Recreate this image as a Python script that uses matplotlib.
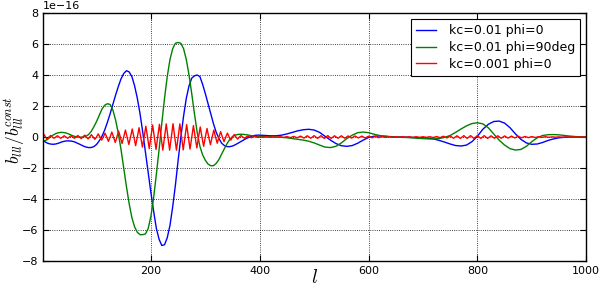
import numpy as np
import matplotlib
matplotlib.use('Agg')
import matplotlib.pyplot as plt

# 1. data (in units of 1e-16)

# grids: fine step for 0-400, coarser step for 400-1000
l_fine = np.arange(0, 401, 5)
l_coarse = np.arange(410, 1001, 10)

blue_fine = [-0.15, -0.3, -0.4, -0.45, -0.47, -0.45, -0.4, -0.33, -0.28, -0.25,
             -0.25, -0.27, -0.32, -0.4, -0.48, -0.57, -0.64, -0.68, -0.68, -0.62,
             -0.48, -0.25, 0.05, 0.45, 0.95, 1.5, 2.1, 2.7, 3.25, 3.75,
             4.1, 4.28, 4.2, 3.9, 3.3, 2.5, 1.5, 0.3, -1.0, -2.3,
             -3.6, -4.8, -5.9, -6.6, -7.0, -6.95, -6.5, -5.7, -4.5, -3.1,
             -1.5, 0.0, 1.35, 2.5, 3.3, 3.8, 3.95, 4.0, 3.9, 3.4,
             2.8, 2.15, 1.5, 0.85, 0.3, -0.1, -0.4, -0.55, -0.62, -0.62,
             -0.58, -0.5, -0.4, -0.3, -0.2, -0.1, -0.02, 0.05, 0.1, 0.12,
             0.12]
blue_coarse = [0.1, 0.08, 0.08, 0.12, 0.2, 0.3, 0.4, 0.47, 0.5, 0.45,
               0.3, 0.05, -0.2, -0.42, -0.56, -0.6, -0.55, -0.4, -0.2, -0.03,
               0.05, 0.07, 0.05, 0.02, 0.0, 0.0, -0.01, -0.03, -0.04, -0.05,
               -0.08, -0.13, -0.22, -0.33, -0.45, -0.55, -0.58, -0.52, -0.3, 0.05,
               0.5, 0.82, 1.0, 1.03, 0.9, 0.6, 0.2, -0.15, -0.38, -0.47,
               -0.45, -0.35, -0.22, -0.12, -0.05, -0.02, 0.0, 0.0, 0.0, 0.0]

green_fine = [-0.2, -0.25, -0.15, 0.0, 0.12, 0.22, 0.28, 0.3, 0.29, 0.25,
              0.18, 0.1, 0.04, 0.0, -0.01, 0.0, 0.05, 0.15, 0.35, 0.65,
              1.0, 1.4, 1.8, 2.05, 2.15, 2.1, 1.75, 1.1, 0.25, -0.8,
              -2.0, -3.2, -4.3, -5.2, -5.8, -6.15, -6.3, -6.3, -6.25, -5.9,
              -5.1, -3.9, -2.4, -0.8, 0.9, 2.5, 3.9, 5.0, 5.7, 6.05,
              6.1, 6.05, 5.7, 5.0, 4.0, 2.8, 1.5, 0.3, -0.6, -1.15,
              -1.5, -1.75, -1.85, -1.85, -1.7, -1.45, -1.1, -0.75, -0.42, -0.15,
              0.03, 0.12, 0.17, 0.18, 0.17, 0.15, 0.12, 0.08, 0.05, 0.03,
              0.03]
green_coarse = [0.02, 0.02, 0.0, -0.02, -0.05, -0.1, -0.15, -0.2, -0.27, -0.38,
                -0.52, -0.65, -0.68, -0.6, -0.38, -0.1, 0.12, 0.28, 0.32, 0.28,
                0.18, 0.1, 0.05, 0.02, 0.0, -0.02, -0.03, -0.05, -0.08, -0.1,
                -0.12, -0.12, -0.1, -0.02, 0.1, 0.3, 0.52, 0.72, 0.87, 0.92,
                0.85, 0.6, 0.2, -0.2, -0.52, -0.75, -0.84, -0.8, -0.6, -0.3,
                -0.05, 0.1, 0.15, 0.16, 0.14, 0.1, 0.06, 0.03, 0.01, 0.0]

# red: quarter period steps up to 400, half period steps after
l_red_fine = np.arange(0, 400.01, 3.125)
l_red_coarse = np.arange(406.25, 1000.01, 6.25)

red_fine = [0, 0.18, 0, -0.15, 0, 0.1, 0, -0.08,
            0, 0.08, 0, -0.08, 0, 0.08, 0, -0.08,
            0, 0.08, 0, -0.08, 0, 0.1, 0, -0.1,
            0, 0.12, 0, -0.12, 0, 0.15, 0, -0.15,
            0, 0.2, 0, -0.2, 0, 0.25, 0, -0.28,
            0, 0.32, 0, -0.35, 0, 0.38, 0, -0.42,
            0, 0.45, 0, -0.48, 0, 0.52, 0, -0.56,
            0, 0.6, 0, -0.65, 0, 0.7, 0, -0.75,
            0, 0.78, 0, -0.8, 0, 0.82, 0, -0.85,
            0, 0.85, 0, -0.85, 0, 0.86, 0, -0.85,
            0, 0.85, 0, -0.83, 0, 0.8, 0, -0.78,
            0, 0.74, 0, -0.7, 0, 0.65, 0, -0.6,
            0, 0.55, 0, -0.5, 0, 0.45, 0, -0.4,
            0, 0.35, 0, -0.3, 0, 0.25, 0, -0.2,
            0, 0.16, 0, -0.13, 0, 0.1, 0, -0.08,
            0, 0.06, 0, -0.05, 0, 0.04, 0, -0.03,
            0]
red_coarse = [-0.02, 0.02, -0.02, 0.02, -0.02, 0.02, -0.03, 0.03, -0.04, 0.04,
              -0.05, 0.06, -0.07, 0.08, -0.08, 0.09, -0.09, 0.09, -0.09, 0.09,
              -0.09, 0.08, -0.08, 0.08, -0.08, 0.07, -0.07, 0.07, -0.06, 0.06,
              -0.06, 0.05, -0.05, 0.04, -0.04, 0.03, -0.03, 0.03, -0.02, 0.02,
              -0.02, 0.02, -0.02, 0.02, -0.02, 0.02, -0.02, 0.02, -0.02, 0.02,
              -0.03, 0.03, -0.04, 0.05, -0.06, 0.07, -0.08, 0.08, -0.09, 0.09,
              -0.09, 0.09, -0.09, 0.09, -0.09, 0.09, -0.09, 0.08, -0.08, 0.08,
              -0.08, 0.07, -0.07, 0.06, -0.06, 0.05, -0.05, 0.04, -0.04, 0.03,
              -0.03, 0.02, -0.02, 0.02, -0.02, 0.01, -0.01, 0.01, -0.01, 0.01,
              -0.01, 0.01, 0, 0, 0, 0]

labels = ['kc=0.01 phi=0', 'kc=0.01 phi=90deg', 'kc=0.001 phi=0']
scale = 1e-16

# 2. plot

plt.rcParams['mathtext.fontset'] = 'cm'
plt.rcParams['xtick.direction'] = 'in'
plt.rcParams['ytick.direction'] = 'in'
plt.rcParams['xtick.top'] = True
plt.rcParams['ytick.right'] = True

fig = plt.figure(figsize=(6, 2.9), dpi=100)
ax = fig.add_axes([0.072, 0.1, 0.905, 0.855])

ax.plot(np.concatenate([l_fine, l_coarse]),
        np.array(blue_fine + blue_coarse) * scale, color='b', lw=1.0, label=labels[0])
ax.plot(np.concatenate([l_fine, l_coarse]),
        np.array(green_fine + green_coarse) * scale, color='g', lw=1.0, label=labels[1])
ax.plot(np.concatenate([l_red_fine, l_red_coarse]),
        np.array(red_fine + red_coarse) * scale, color='r', lw=1.0, label=labels[2])

ax.set_xlim(2, 1000)
ax.set_ylim(-8e-16, 8e-16)
ax.set_xticks([200, 400, 600, 800, 1000])
ax.set_yticks(np.arange(-8, 9, 2) * scale)
ax.tick_params(labelsize=8, length=4, width=0.8)
ax.yaxis.get_offset_text().set_fontsize(8)
ax.grid(True, linestyle=':', color='k', lw=0.6)
for s in ax.spines.values():
    s.set_linewidth(1.0)

ax.set_xlabel(r'$l$', fontsize=14, labelpad=-6)
ax.set_ylabel(r'$b_{lll}/b_{lll}^{const}$', fontsize=12.5)
ax.yaxis.set_label_coords(-0.03, 0.53)

leg = ax.legend(loc='upper right', fontsize=9, fancybox=False, framealpha=1,
                handlelength=1.6, handletextpad=1.0, labelspacing=0.3,
                borderaxespad=0.5)
leg.get_frame().set_edgecolor('k')
leg.get_frame().set_linewidth(0.8)

plt.savefig('out.png', dpi=100)
